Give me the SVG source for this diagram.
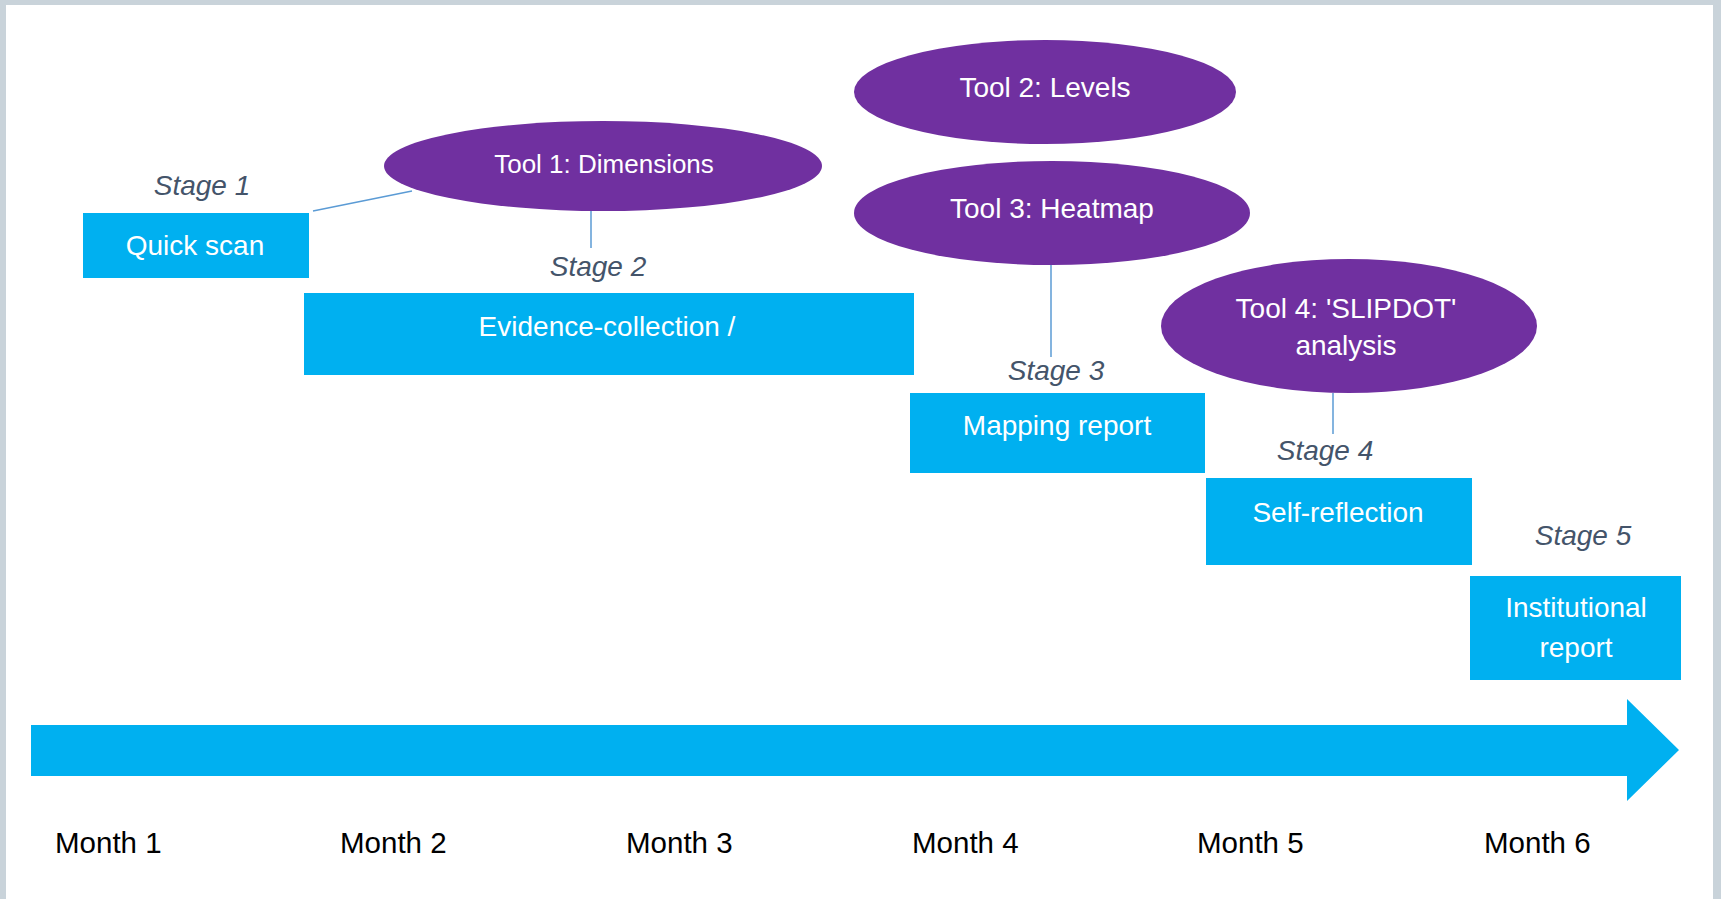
<svg xmlns="http://www.w3.org/2000/svg" width="1721" height="899" viewBox="0 0 1721 899">
<style>
.box{fill:#00b0f0}
.tool{fill:#7030a0}
.wt{fill:#ffffff;font-family:"Liberation Sans",Arial,sans-serif;font-size:28px;text-anchor:middle}
.stage{fill:#44546a;font-family:"Liberation Sans",Arial,sans-serif;font-size:28px;font-style:italic;text-anchor:middle}
.month{fill:#000000;font-family:"Liberation Sans",Arial,sans-serif;font-size:29.5px}
.conn{stroke:#5b9bd5;stroke-width:1.5;fill:none}
</style>
<rect x="0" y="0" width="1721" height="899" fill="#c9d3da"/>
<rect x="6" y="5" width="1707" height="894" fill="#ffffff"/>
<g id="connectors">
<line class="conn" x1="313" y1="211" x2="412" y2="191"/>
<line class="conn" x1="591" y1="211" x2="591" y2="248"/>
<line class="conn" x1="1051" y1="265" x2="1051" y2="357"/>
<line class="conn" x1="1333" y1="393" x2="1333" y2="434"/>
</g>
<g id="timeline">
<polygon class="box" points="31,725 1627,725 1627,699 1679,750 1627,801 1627,776 31,776"/>
</g>
<g id="stage1">
<text class="stage" x="202" y="195">Stage 1</text>
<rect class="box" x="83" y="213" width="226" height="65"/>
<text class="wt" x="195" y="255">Quick scan</text>
</g>
<g id="tool1">
<ellipse class="tool" cx="603" cy="166" rx="219" ry="45"/>
<text class="wt" x="604" y="173" style="font-size:26px">Tool 1: Dimensions</text>
</g>
<g id="stage2">
<text class="stage" x="598" y="276">Stage 2</text>
<rect class="box" x="304" y="293" width="610" height="82"/>
<text class="wt" x="607" y="336">Evidence-collection /</text>
</g>
<g id="tool2">
<ellipse class="tool" cx="1045" cy="92" rx="191" ry="52"/>
<text class="wt" x="1045" y="97">Tool 2: Levels</text>
</g>
<g id="tool3">
<ellipse class="tool" cx="1052" cy="213" rx="198" ry="52"/>
<text class="wt" x="1052" y="218">Tool 3: Heatmap</text>
</g>
<g id="stage3">
<text class="stage" x="1056" y="380">Stage 3</text>
<rect class="box" x="910" y="393" width="295" height="80"/>
<text class="wt" x="1057" y="435">Mapping report</text>
</g>
<g id="tool4">
<ellipse class="tool" cx="1349" cy="326" rx="188" ry="67"/>
<text class="wt" x="1346" y="318">Tool 4: 'SLIPDOT'</text>
<text class="wt" x="1346" y="355">analysis</text>
</g>
<g id="stage4">
<text class="stage" x="1325" y="460">Stage 4</text>
<rect class="box" x="1206" y="478" width="266" height="87"/>
<text class="wt" x="1338" y="522">Self-reflection</text>
</g>
<g id="stage5">
<text class="stage" x="1583" y="545">Stage 5</text>
<rect class="box" x="1470" y="576" width="211" height="104"/>
<text class="wt" x="1576" y="617">Institutional</text>
<text class="wt" x="1576" y="657">report</text>
</g>
<g id="months">
<text class="month" x="55" y="853">Month 1</text>
<text class="month" x="340" y="853">Month 2</text>
<text class="month" x="626" y="853">Month 3</text>
<text class="month" x="912" y="853">Month 4</text>
<text class="month" x="1197" y="853">Month 5</text>
<text class="month" x="1484" y="853">Month 6</text>
</g>
</svg>
